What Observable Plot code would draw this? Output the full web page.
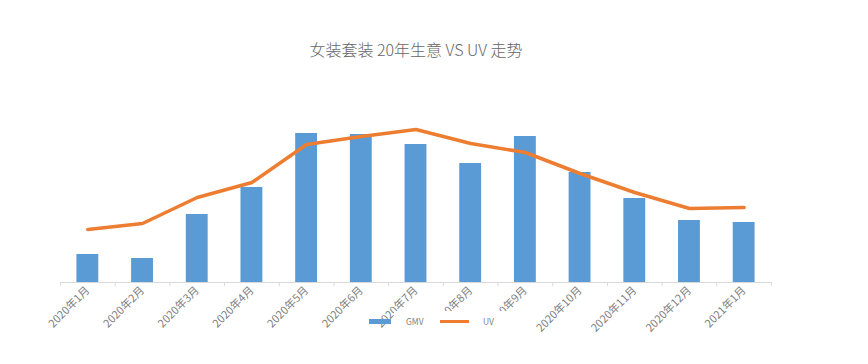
<!DOCTYPE html>
<html>
<head>
<meta charset="utf-8">
<script src="https://cdn.jsdelivr.net/npm/d3@7"></script>
<script src="https://cdn.jsdelivr.net/npm/@observablehq/plot@0.6"></script>
<style>
  body { margin: 0; background: #fff; font-family: "Noto Sans CJK SC", "Noto Sans", sans-serif; }
  #wrap { position: relative; width: 868px; height: 364px; }
  #title { position: absolute; left: 0; top: 38px; width: 832px; text-align: center; font-size: 16px; line-height: 22px; color: #666; font-weight: 300; }
  #legend { position: absolute; left: 366px; top: 311px; height: 20px; width: 146px;
    background: linear-gradient(to right, transparent 28px, #fff 28px); font-size: 8.5px; color: #7f7f7f; }
  #legend span { position: absolute; }
</style>
</head>
<body>
<div id="wrap">
  <div id="chart"></div>
  <div id="title">女装套装 20年生意 VS UV 走势</div>
  <div id="legend">
    <span style="left:3px; top:8px; width:22px; height:5px; background:#5B9BD5;"></span>
    <span style="left:40px; top:4px;">GMV</span>
    <span style="left:74px; top:9px; width:29px; height:3px; background:#ED7D31;"></span>
    <span style="left:117px; top:4px;">UV</span>
  </div>
</div>
<script>
const months = ["2020年1月","2020年2月","2020年3月","2020年4月","2020年5月","2020年6月","2020年7月","2020年8月","2020年9月","2020年10月","2020年11月","2020年12月","2021年1月"];
const gmv = [28, 24, 68, 95, 149, 148, 138, 119, 146, 110, 84, 62, 60];
const uv = [53, 59, 85, 100, 138, 146, 153, 139, 130, 109, 90, 74, 75];

const data = months.map((m, i) => ({month: m, gmv: gmv[i], uv: uv[i]}));

const W = 868, H = 364, mL = 60, mR = 97;
const step = (W - mL - mR) / months.length;

const chart = Plot.plot({
  width: W,
  height: H,
  marginTop: 122,
  marginBottom: 82,
  marginLeft: mL,
  marginRight: mR,
  style: {fontFamily: "'Noto Sans CJK SC', sans-serif", color: "#7f7f7f", background: "transparent"},
  x: {domain: months, type: "band", paddingInner: 0.6, paddingOuter: 0.3, round: false, axis: null, label: null},
  y: {domain: [0, 160], axis: null},
  marks: [
    Plot.barY(data, {x: "month", y: "gmv", fill: "#5B9BD5"}),
    Plot.ruleY([0], {stroke: "#d9d9d9", strokeWidth: 1}),
    Plot.ruleX(months, {x: d => d, y1: 0, y2: -4, dx: -step / 2, stroke: "#d9d9d9"}),
    Plot.ruleX([months[months.length - 1]], {x: d => d, y1: 0, y2: -4, dx: step / 2, stroke: "#d9d9d9"}),
    Plot.line(data, {x: "month", y: "uv", stroke: "#ED7D31", strokeWidth: 3.5, strokeLinejoin: "round"}),
    Plot.axisX({tickSize: 0, tickRotate: -45, tickPadding: 6, fontSize: 11, fill: "#7f7f7f", label: null})
  ]
});
document.getElementById("chart").appendChild(chart);
</script>
</body>
</html>
